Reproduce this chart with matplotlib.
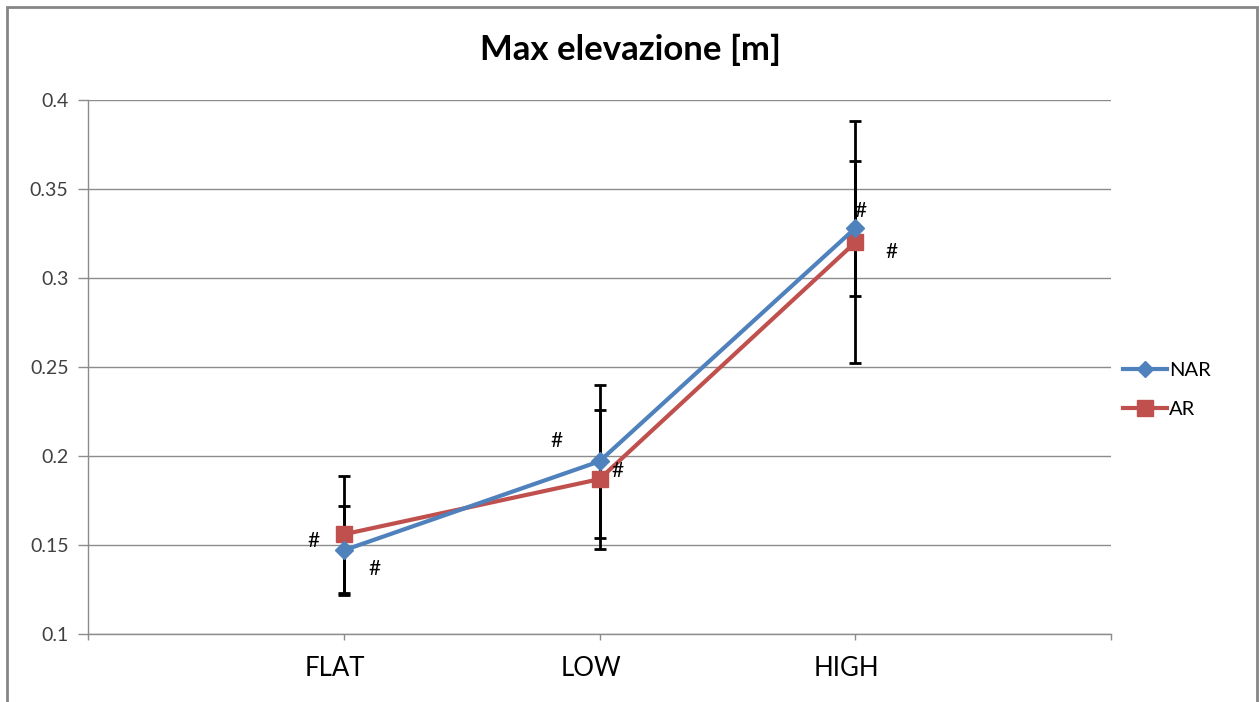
import matplotlib
matplotlib.use("Agg")
import matplotlib.pyplot as plt
import matplotlib.transforms as mtransforms
from matplotlib.patches import Rectangle
from matplotlib.lines import Line2D

plt.rcParams['font.family'] = ['Lato', 'DejaVu Sans']

# Data
categories = ["FLAT", "LOW", "HIGH"]
nar_mean = [0.147, 0.197, 0.328]
nar_err = [0.025, 0.043, 0.038]
ar_mean = [0.156, 0.187, 0.320]
ar_err = [0.033, 0.039, 0.068]
yticks = [0.1, 0.15, 0.2, 0.25, 0.3, 0.35, 0.4]
ytick_labels = ["0.1", "0.15", "0.2", "0.25", "0.3", "0.35", "0.4"]

# Significance marks: (x, y) in data coordinates
hash_marks = [(0.88, 0.152), (1.12, 0.1365), (1.83, 0.2085), (2.07, 0.1915),
              (3.02, 0.3375), (3.14, 0.3145)]

nar_color = "#4F81BD"
ar_color = "#C0504D"
grid_color = "#8C8C8C"

W, H = 1260, 702
fig = plt.figure(figsize=(W / 100, H / 100), dpi=100)
ax = fig.add_axes([88 / W, 1 - 634 / H, (1111 - 88) / W, (634 - 100) / H])

x = [1, 2, 3]

# Error bars
for mean, err in [(nar_mean, nar_err), (ar_mean, ar_err)]:
    ax.errorbar(x, mean, yerr=err, fmt='none', ecolor='black',
                elinewidth=2, capsize=4, capthick=2, zorder=2)

# Series
ax.plot(x, nar_mean, color=nar_color, lw=3, marker='D', ms=9,
        markeredgecolor=nar_color, zorder=4, solid_joinstyle='round')
ax.plot(x, ar_mean, color=ar_color, lw=3, marker='s', ms=12,
        markeredgecolor=ar_color, zorder=3, solid_joinstyle='round')

for hx, hy in hash_marks:
    ax.text(hx, hy, "#", ha='center', va='center', fontsize=15, color='black', zorder=5)

ax.set_xlim(0, 4)
ax.set_ylim(0.1, 0.4)
ax.set_yticks(yticks)
ax.set_yticklabels(ytick_labels, fontsize=14, color='#404040')
ax.set_xticks([0, 1, 2, 3, 4])
ax.set_xticklabels([""] + categories + [""], fontsize=18.5, color='black')
ax.tick_params(axis='y', length=7, color=grid_color, width=1, pad=7)
ax.tick_params(axis='x', length=4, color=grid_color, width=1, pad=12)

# Category labels sit slightly left of their tick marks
shift = mtransforms.ScaledTranslation(-9 / 100, 0, fig.dpi_scale_trans)
for lbl in ax.get_xticklabels():
    lbl.set_transform(lbl.get_transform() + shift)

ax.grid(axis='y', color=grid_color, lw=1)
ax.set_axisbelow(True)
for side in ['top', 'right']:
    ax.spines[side].set_visible(False)
for side in ['left', 'bottom']:
    ax.spines[side].set_color(grid_color)
    ax.spines[side].set_linewidth(1)

fig.text(631 / W, 1 - 50 / H, "Max elevazione [m]", ha='center', va='center',
         fontsize=25, fontweight='bold', color='black')

handles = [
    Line2D([], [], color=nar_color, lw=3, marker='D', ms=8, markeredgecolor=nar_color),
    Line2D([], [], color=ar_color, lw=3, marker='s', ms=11, markeredgecolor=ar_color),
]
fig.legend(handles, ["NAR", "AR"], loc='center left',
           bbox_to_anchor=(1113 / W, 1 - 390 / H), frameon=False,
           fontsize=14.5, handlelength=2.2, handletextpad=0.1,
           labelspacing=1.12, borderpad=0)

# Outer chart frame
fig.patches.append(Rectangle((7 / W, -0.02), (1257 - 7) / W, 1.02 - 7 / H,
                             transform=fig.transFigure, fill=False,
                             edgecolor='#868686', lw=2))

fig.savefig("out.png", dpi=100, facecolor='white')
